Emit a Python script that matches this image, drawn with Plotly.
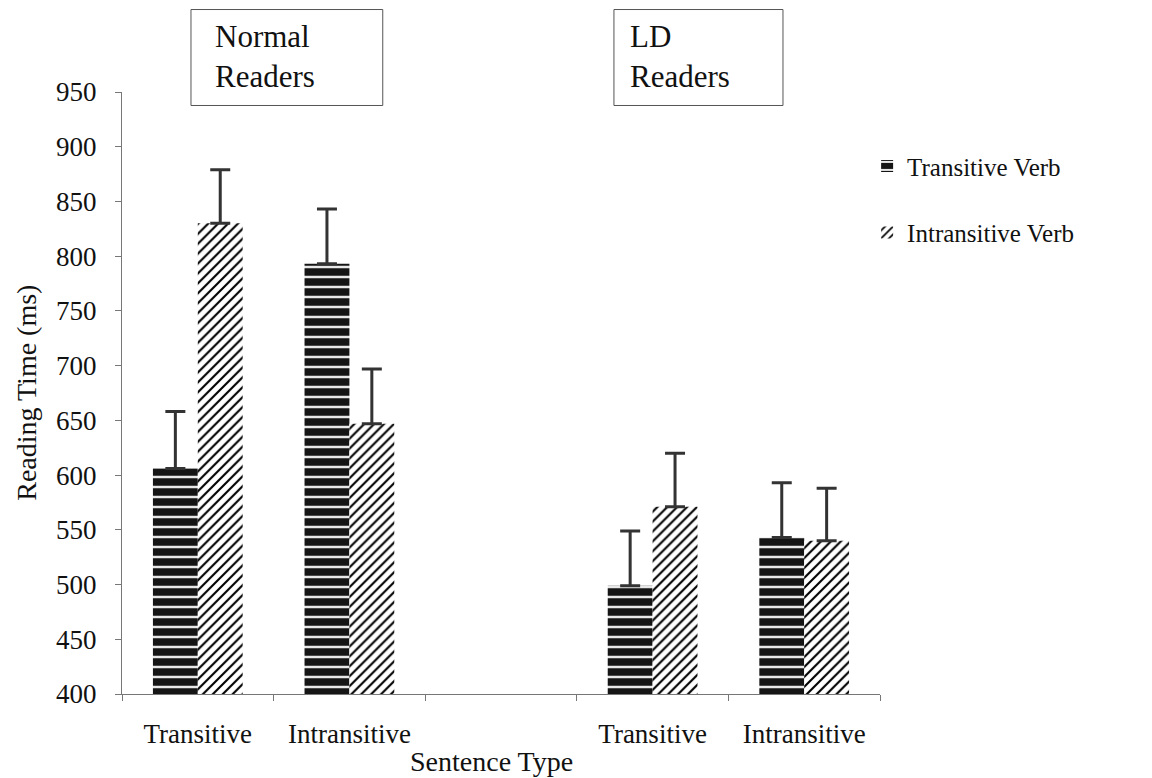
import plotly.graph_objects as go

# ---- data ----
groups = ["Normal Readers", "Normal Readers", "LD Readers", "LD Readers"]
sentence_types = ["Transitive", "Intransitive", "Transitive", "Intransitive"]
series_names = ["Transitive Verb", "Intransitive Verb"]
transitive_verb = [606, 793, 499, 543]
transitive_verb_err = [52, 50, 50, 50]
intransitive_verb = [830, 647, 571, 540]
intransitive_verb_err = [49, 50, 49, 48]
y_ticks = [400, 450, 500, 550, 600, 650, 700, 750, 800, 850, 900, 950]
group_labels = ["Normal<br>Readers", "LD<br>Readers"]

# category keys (a blank spacer category separates the two reader groups)
keys = [f"{g}|{s}" for g, s in zip(groups, sentence_types)]
spacer = "spacer"
cat_order = keys[:2] + [spacer] + keys[2:]
tick_text = sentence_types[:2] + [""] + sentence_types[2:]

FONT = "Liberation Serif"

fig = go.Figure()
fig.add_trace(go.Bar(
    name=series_names[0], x=keys, y=transitive_verb,
    marker=dict(color="#151515", line=dict(width=0),
                pattern=dict(shape="-", fgcolor="#ffffff", fgopacity=0.9, size=10,
                             solidity=0.25, fillmode="overlay")),
    error_y=dict(type="data", symmetric=False, array=transitive_verb_err,
                 arrayminus=[0] * len(transitive_verb), color="#333333", thickness=3, width=10),
    legendgroup="a",
))
fig.add_trace(go.Bar(
    name=series_names[1], x=keys, y=intransitive_verb,
    marker=dict(color="#ffffff", line=dict(width=0),
                pattern=dict(shape="/", fgcolor="#000000", fgopacity=1, size=7,
                             solidity=0.3, fillmode="overlay")),
    error_y=dict(type="data", symmetric=False, array=intransitive_verb_err,
                 arrayminus=[0] * len(intransitive_verb), color="#333333", thickness=3, width=10),
    legendgroup="b",
))

fig.update_layout(
    width=1144, height=770,
    margin=dict(l=114, r=272, t=84, b=84),
    paper_bgcolor="white", plot_bgcolor="white",
    barmode="group", bargap=0.408, bargroupgap=0,
    font=dict(family=FONT, color="#111111", size=24),
    showlegend=True,
    legend=dict(x=0.983, xanchor="left", y=0.915, yanchor="top",
                font=dict(family=FONT, size=25, color="#111111"),
                tracegroupgap=31, bgcolor="rgba(0,0,0,0)", itemwidth=30),
    xaxis=dict(type="category", categoryorder="array", categoryarray=cat_order,
               tickmode="array", tickvals=cat_order, ticktext=tick_text,
               tickson="boundaries", ticks="outside", ticklen=6, tickcolor="#777777",
               ticklabelstandoff=16,
               showline=True, linecolor="#777777", linewidth=1,
               showgrid=False, zeroline=False,
               tickfont=dict(family=FONT, size=27, color="#111111")),
    yaxis=dict(range=[400, 950], tickmode="array", tickvals=y_ticks,
               ticks="outside", ticklen=6, tickcolor="#777777",
               ticklabelstandoff=13,
               showline=True, linecolor="#777777", linewidth=1,
               showgrid=False, zeroline=False,
               tickfont=dict(family=FONT, size=27, color="#111111")),
)

# axis titles
fig.add_annotation(text="Reading Time (ms)", xref="paper", yref="paper",
                   x=-0.15, y=0.5, textangle=-90, showarrow=False,
                   font=dict(family=FONT, size=28, color="#111111"))
fig.add_annotation(text="Sentence Type", xref="paper", yref="paper",
                   x=0.488, y=-0.142, showarrow=False,
                   font=dict(family=FONT, size=28, color="#111111"))

# group label boxes
boxes = [(0.091, 0.344, 0.120), (0.649, 0.872, 0.6675)]
for (x0, x1, xt), label in zip(boxes, group_labels):
    fig.add_shape(type="rect", xref="paper", yref="paper", x0=x0, x1=x1,
                  y0=0.9776, y1=1.137, line=dict(color="#555555", width=1),
                  fillcolor="white")
    fig.add_annotation(text=label, xref="paper", yref="paper", x=xt, y=1.124,
                       xanchor="left", yanchor="top", align="left", showarrow=False,
                       font=dict(family=FONT, size=31, color="#111111"))

fig.write_html("out.html")
